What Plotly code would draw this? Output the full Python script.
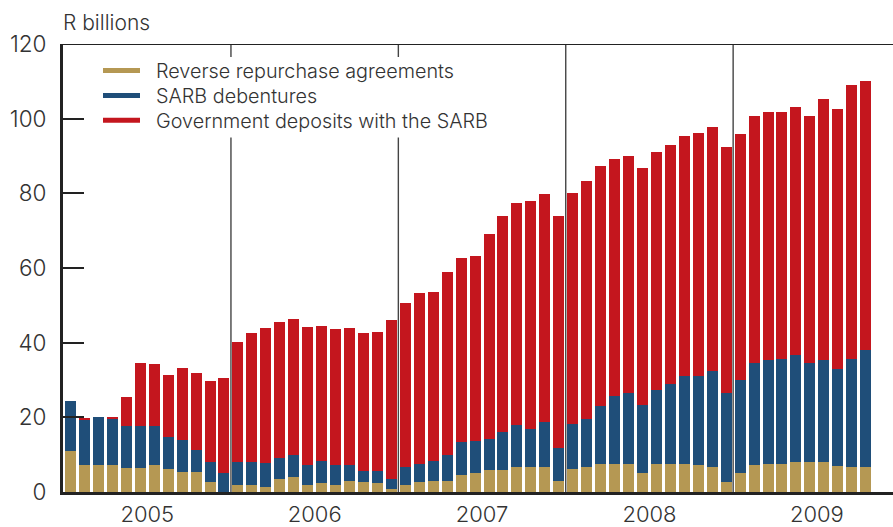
import plotly.graph_objects as go

months = [f"{y}-{m:02d}" for y in range(2005, 2010) for m in range(1, 13)][:58]
years = ["2005", "2006", "2007", "2008", "2009"]

repo = [11.0, 7.1, 7.1, 7.1, 6.5, 6.5, 7.1, 6.2, 5.4, 5.4, 2.7, 0.0,
        1.9, 1.9, 1.4, 3.4, 3.9, 1.9, 2.3, 1.9, 3.0, 2.8, 2.3, 0.7,
        1.9, 2.8, 3.0, 3.0, 4.6, 5.1, 6.0, 6.0, 6.6, 6.6, 6.7, 3.0,
        6.2, 6.6, 7.6, 7.6, 7.6, 5.0, 7.6, 7.6, 7.6, 7.1, 6.7, 2.8,
        5.0, 7.3, 7.5, 7.5, 8.1, 8.1, 8.1, 7.0, 6.7, 6.7]
debentures = [13.4, 12.3, 13.0, 12.7, 11.3, 11.3, 10.5, 8.4, 8.4, 5.9, 5.3, 5.2,
              6.2, 6.2, 6.4, 5.8, 6.1, 5.4, 5.9, 5.2, 4.3, 2.9, 3.4, 2.9,
              4.8, 4.8, 5.2, 7.0, 8.9, 8.6, 8.2, 10.2, 11.4, 10.3, 12.1, 8.9,
              12.1, 13.0, 15.5, 18.2, 18.9, 18.3, 19.8, 21.4, 23.5, 24.0, 25.7, 23.7,
              25.1, 27.2, 27.9, 28.0, 28.6, 26.4, 27.3, 25.9, 28.9, 31.4]
gov_deposits = [0.0, 0.2, 0.0, 0.3, 7.7, 16.8, 16.7, 16.7, 19.4, 20.6, 21.7, 25.3,
                32.1, 34.4, 36.1, 36.3, 36.3, 36.8, 36.3, 36.5, 36.6, 36.8, 37.2, 42.5,
                43.8, 45.6, 45.5, 48.8, 49.3, 49.4, 54.8, 57.6, 59.5, 61.1, 61.1, 62.1,
                61.9, 63.8, 64.3, 63.4, 63.5, 63.5, 63.7, 64.0, 64.3, 65.1, 65.4, 66.0,
                65.8, 66.3, 66.4, 66.2, 66.3, 66.3, 69.9, 69.7, 73.4, 72.0]

names = ["Reverse repurchase agreements", "SARB debentures",
         "Government deposits with the SARB"]
colors = ["#B59853", "#1F4E79", "#C4161E"]

x = list(range(len(months)))
year_centers = [12 * i + 5.5 for i in range(len(years))]
year_bounds = [12 * i - 0.5 for i in range(1, len(years))]

W, H = 893, 527
ML, MR, MT, MB = 63, 0, 44, 32.6
PW, PH = W - ML - MR, H - MT - MB


def px(xp):
    return (xp - ML) / PW


def py(yp):
    return (H - MB - yp) / PH


fig = go.Figure()
for vals, name, col in zip([repo, debentures, gov_deposits], names, colors):
    fig.add_trace(go.Bar(x=x, y=vals, name=name, marker=dict(color=col, line=dict(width=0)),
                         showlegend=False, customdata=months))

for b in year_bounds:
    fig.add_shape(type="line", xref="x", yref="y", x0=b, x1=b, y0=0, y1=120,
                  line=dict(color="#444444", width=1.4), layer="above")
fig.add_shape(type="line", xref="paper", yref="y", x0=0, x1=1, y0=120, y1=120,
              line=dict(color="#222222", width=2.2), layer="above")

# legend box (white background hiding the separators)
fig.add_shape(type="rect", xref="paper", yref="paper", x0=px(95), x1=px(505),
              y0=py(138), y1=py(57), fillcolor="white", line=dict(width=0), layer="above")

txt = "#333333"
font_family = "Inter, Liberation Sans, Arial, sans-serif"
annotations = [dict(text="R billions", xref="paper", yref="paper", x=px(63), y=py(22.5),
                    xanchor="left", yanchor="middle", xshift=-2, showarrow=False,
                    font=dict(size=21, color=txt, weight=300))]
leg_y = [70.7, 95.7, 120.7]
for name, col, yy in zip(names, colors, leg_y):
    fig.add_shape(type="line", xref="paper", yref="paper", x0=px(103), x1=px(140),
                  y0=py(yy), y1=py(yy), line=dict(color=col, width=5), layer="above")
    annotations.append(dict(text=name, xref="paper", yref="paper", x=px(154), y=py(yy + 0.5),
                            xanchor="left", yanchor="middle", showarrow=False,
                            font=dict(size=19.8, color=txt, weight=300)))

fig.update_layout(
    width=W, height=H,
    margin=dict(l=ML, r=MR, t=MT, b=MB),
    paper_bgcolor="white", plot_bgcolor="white",
    barmode="stack", bargap=0.21, showlegend=False,
    font=dict(family=font_family, color=txt, weight=300),
    xaxis=dict(range=[-0.54, 58.96], tickvals=year_centers, ticktext=years,
               showgrid=False, zeroline=False, ticks="",
               showline=True, linecolor="#222222", linewidth=3,
               tickfont=dict(size=22, color=txt, weight=300), ticklabelstandoff=1),
    yaxis=dict(range=[0, 120], tickvals=[0, 20, 40, 60, 80, 100, 120],
               showgrid=False, zeroline=False, ticks="inside", ticklen=21,
               tickwidth=2.2, tickcolor="#222222",
               showline=True, linecolor="#222222", linewidth=3,
               tickfont=dict(size=22.5, color=txt, weight=300), ticklabelstandoff=9),
    annotations=annotations,
)

fig.write_html("out.html", config={"displayModeBar": False},
               post_script="document.body.style.margin='0';document.body.style.padding='0';")
